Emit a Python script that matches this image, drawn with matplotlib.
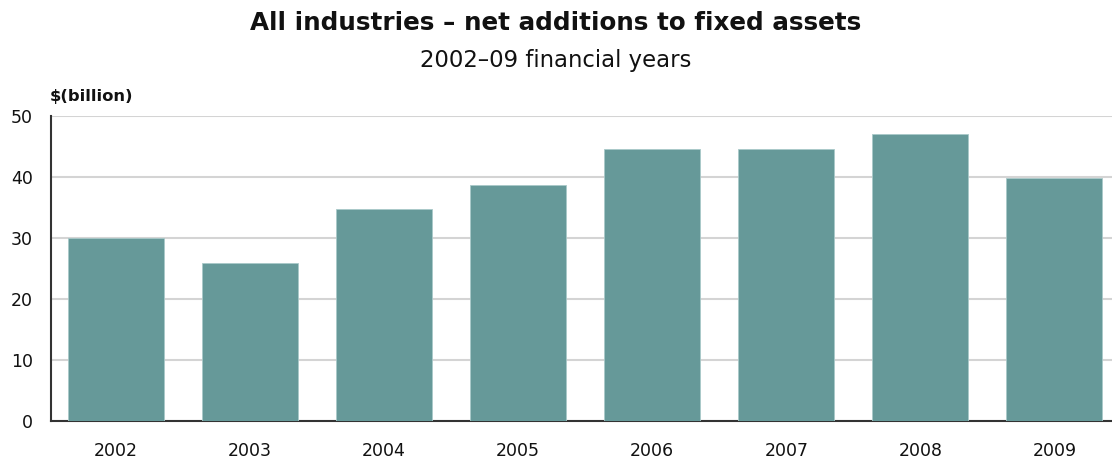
import matplotlib
matplotlib.use("Agg")
import matplotlib.pyplot as plt

years = ["2002", "2003", "2004", "2005", "2006", "2007", "2008", "2009"]
values = [30.0, 25.9, 34.8, 38.7, 44.6, 44.6, 47.0, 39.9]
yticks = [0, 10, 20, 30, 40, 50]

W, H = 1112, 461
fig = plt.figure(figsize=(W / 100, H / 100), dpi=100)
left_px, right_px, top_px, bottom_px = 51, 1112, 116, 421
ax = fig.add_axes([left_px / W, 1 - bottom_px / H, (right_px - left_px) / W, (bottom_px - top_px) / H])

x = list(range(len(years)))
ax.bar(x, values, width=0.716, color="#669999", edgecolor="#a9c9c9", linewidth=0.6, zorder=3)
ax.set_ylim(0, 50)
ax.set_xlim(-0.485, 7.43)
ax.set_yticks(yticks)
ax.set_yticklabels([str(t) for t in yticks])
ax.set_xticks(x)
ax.set_xticklabels(years)
ax.grid(axis="y", color="#d4d4d4", linewidth=1.5, zorder=0)
ax.set_axisbelow(True)
for s in ["top", "right"]:
    ax.spines[s].set_visible(False)
ax.spines["left"].set_color("#333333")
ax.spines["bottom"].set_color("#333333")
ax.spines["left"].set_linewidth(1.5)
ax.spines["bottom"].set_linewidth(1.5)
ax.tick_params(axis="both", length=0, labelsize=12.5, colors="#111111")
ax.tick_params(axis="y", pad=13)
ax.tick_params(axis="x", pad=15)

fig.text(0.5, 1 - 23 / H, "All industries \u2013 net additions to fixed assets", ha="center", va="center",
         fontsize=17.7, fontweight="bold", family="DejaVu Sans", color="#111111")
fig.text(0.5, 1 - 61 / H, "2002\u201309 financial years", ha="center", va="center",
         fontsize=16.4, family="DejaVu Sans", color="#111111")
fig.text(50 / W, 1 - 96 / H, "$(billion)", ha="left", va="center", fontsize=11.8, fontweight="bold",
         family="DejaVu Sans", color="#111111")

fig.savefig("out.png", dpi=100)
